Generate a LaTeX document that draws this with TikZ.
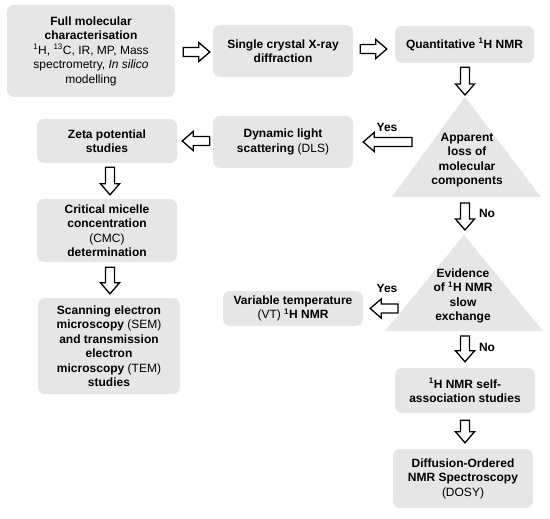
\documentclass[tikz,border=0pt]{standalone}
\usepackage{fontspec}
\setmainfont{Liberation Sans}
\usetikzlibrary{calc}
\definecolor{boxgray}{RGB}{230,230,230}
\tikzset{
  box/.style={fill=boxgray, rounded corners=7pt, align=center, inner sep=2pt,
    font=\fontsize{12}{14.5}\selectfont\bfseries},
  lab/.style={font=\fontsize{12}{14.5}\selectfont\bfseries, inner sep=0pt},
  fa/.style={shift={(\tikztostart)}, rotate=\n2},
  fat/.style={draw, fill=white, line width=1.3pt, line join=miter,
    to path={let \p1=($(\tikztotarget)-(\tikztostart)$), \n1={veclen(\x1,\y1)}, \n2={atan2(\y1,\x1)} in
      ([fa]0pt,4.5pt) -- ([fa]{\n1*1pt-11pt},4.5pt) -- ([fa]{\n1*1pt-11pt},9.5pt) -- ([fa]{\n1*1pt},0pt)
      -- ([fa]{\n1*1pt-11pt},-9.5pt) -- ([fa]{\n1*1pt-11pt},-4.5pt) -- ([fa]0pt,-4.5pt) -- cycle}}
}
\begin{document}
\begin{tikzpicture}[x=1pt, y=-1pt]
  \useasboundingbox (0,0) rectangle (550,519);
  % boxes
  \node[box, minimum width=168, minimum height=92] (full) at (91,51)
    {Full molecular\\characterisation\\\textmd{\textsuperscript{1}H, \textsuperscript{13}C, IR, MP, Mass}\\\textmd{spectrometry, \textit{In silico}}\\\textmd{modelling}};
  \node[box, minimum width=140, minimum height=52] (xray) at (283,51) {Single crystal X-ray\\diffraction};
  \node[box, minimum width=139, minimum height=37] (qnmr) at (464.5,44.5) {Quantitative \textsuperscript{1}H NMR};
  \node[box, minimum width=140, minimum height=52] (dls) at (283,142) {Dynamic light\\scattering \textmd{(DLS)}};
  \node[box, minimum width=140, minimum height=44] (zeta) at (107,141) {Zeta potential\\studies};
  \node[box, minimum width=140, minimum height=63] (cmc) at (107,230.5) {Critical micelle\\concentration\\\textmd{(CMC)}\\determination};
  \node[box, minimum width=142, minimum height=96] (sem) at (109,346)
    {Scanning electron\\microscopy \textmd{(SEM)}\\and transmission\\electron\\microscopy \textmd{(TEM)}\\studies};
  \node[box, minimum width=140, minimum height=35] (vt) at (293,308.5) {Variable temperature\\\textmd{(VT)} \textsuperscript{1}H NMR};
  \node[box, minimum width=140, minimum height=45] (self) at (465,390.5) {\textsuperscript{1}H NMR self-\\association studies};
  \node[box, minimum width=140, minimum height=59] (dosy) at (463,478.5) {Diffusion-Ordered\\NMR Spectroscopy\\\textmd{(DOSY)}};
  % decision triangles
  \path (465,97) coordinate (t1a) (392,197) coordinate (t1b) (541,197) coordinate (t1c)
        (464,235) coordinate (t2a) (385,331) coordinate (t2b) (543,331) coordinate (t2c);
  \foreach \t in {t1,t2} \fill[boxgray] (\t a)--(\t b)--(\t c)--cycle;
  \node[lab, align=center] (loss) at (467,160) {Apparent\\loss of\\molecular\\components};
  \node[lab, align=center] (slow) at (463,296) {Evidence\\of \textsuperscript{1}H NMR\\slow\\exchange};
  % arrows
  \draw[fat] ($(full.east)+(8,1)$) to ($(xray.west)+(-3,1)$);
  \draw[fat] ($(xray.east)+(7,-2)$) to ($(qnmr.west)+(-8,4.5)$);
  \draw[fat] ($(qnmr.south)+(0.5,4)$) to ($(t1a)+(0,-2)$);
  \draw[fat] ($(t1a)+(-53,45)$) to ($(dls.east)+(10,0)$);
  \draw[fat] ($(dls.west)+(-3,-1)$) to ($(zeta.east)+(5,0)$);
  \draw[fat] ($(zeta.south)+(3,4)$) to ($(cmc.north)+(3,-4)$);
  \draw[fat] ($(cmc.south)+(3,5)$) to ($(sem.north)+(1,-4)$);
  \draw[fat] ($(t1a|-t1c)+(0,6)$) to ($(t2a)+(1,-5)$);
  \draw[fat] ($(t2a)+(-66,73.5)$) to ($(vt.east)+(7,0)$);
  \draw[fat] ($(t2a|-t2c)+(1,5)$) to ($(self.north)+(0,-6)$);
  \draw[fat] ($(self.south)+(0,7)$) to ($(dosy.north)+(2,-6)$);
  % labels
  \node[lab] (yes1) at (387,127) {Yes};
  \node[lab] (no1) at (487,213) {No};
  \node[lab] (yes2) at (387,288) {Yes};
  \node[lab] (no2) at (487,347) {No};
\end{tikzpicture}
\end{document}
